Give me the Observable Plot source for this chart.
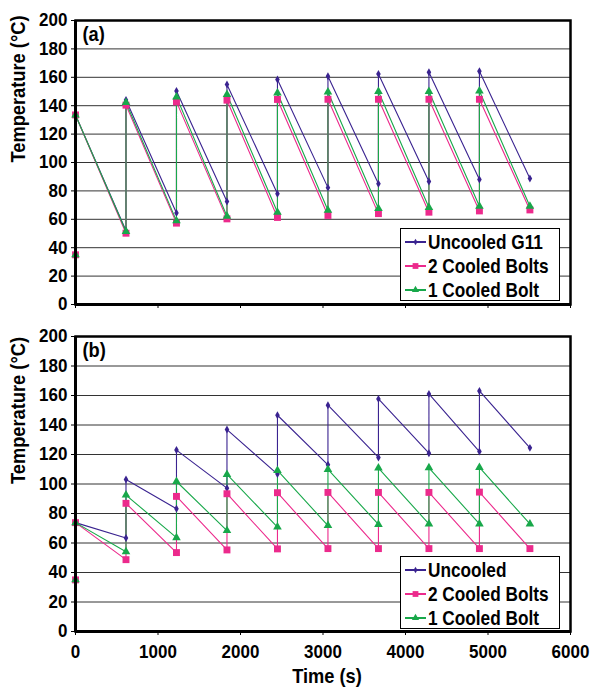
<!DOCTYPE html>
<html>
<head>
<meta charset="utf-8">
<script src="https://cdn.jsdelivr.net/npm/d3@7"></script>
<script src="https://cdn.jsdelivr.net/npm/@observablehq/plot@0.6"></script>
<style>
  html, body { margin: 0; padding: 0; background: #fff; }
  #page { position: relative; width: 593px; height: 690px; overflow: hidden; }
  #page svg { display: block; }
  .panel { position: absolute; left: 0; }
  .legend { position: absolute; background: #fff; border: 1.5px solid #000; box-sizing: border-box;
            font-family: "Liberation Sans", Arial, sans-serif;
            font-weight: bold; font-size: 21px; color: #000; padding-top: 1px; }
  .legend .row { display: flex; align-items: center; height: 24px; white-space: nowrap; }
  .legend .row span { display: inline-block; transform: scaleX(0.82); transform-origin: left center; }
  .legend svg { margin-left: 3px; margin-right: 1px; flex: none; }
</style>
</head>
<body>
<div id="page"></div>
<script>
const FONT = '"Liberation Sans", Arial, sans-serif';

// ---- data ----
const times = [0, 612, 1224, 1836, 2448, 3060, 3672, 4284, 4896, 5508];
const seriesA = ["Uncooled G11", "2 Cooled Bolts", "1 Cooled Bolt"];
const seriesB = ["Uncooled", "2 Cooled Bolts", "1 Cooled Bolt"];
const yTicks = [0, 20, 40, 60, 80, 100, 120, 140, 160, 180, 200];
const xTicks = [0, 1000, 2000, 3000, 4000, 5000, 6000];

// panel (a): value at start of each cycle (low) and after the jump (peak)
const aUncooledLow  = [35, 52, 64.5, 72.5, 78, 82.3, 85, 86.6, 88, 88.7];
const aUncooledPeak = [133.5, 144, 150.4, 155, 158.5, 160.7, 162.4, 163.6, 164.3];
const aTwoLow       = [35, 50.2, 57.3, 60.3, 61.3, 62.7, 64, 65, 65.9, 66.6];
const aTwoPeak      = [133.5, 140.4, 142.7, 143.9, 144.4, 144.5, 144.5, 144.5, 144.5];
const aOneLow       = [35, 51.4, 58.9, 62.2, 65, 66.4, 67.6, 68.3, 69.2, 69.2];
const aOnePeak      = [133.5, 142.2, 146.2, 147.9, 149, 149.6, 150, 150, 150.3];

// panel (b)
const bUncooledLow  = [35, 63.4, 83.2, 97.2, 106.7, 113, 118, 120.9, 122, 124.5];
const bUncooledPeak = [73.8, 103.1, 123, 136.9, 146.6, 153.4, 157.7, 161.1, 163.1];
const bTwoLow       = [35, 48.7, 53.5, 55.3, 56, 56.2, 56.2, 56.2, 56.2, 56.2];
const bTwoPeak      = [73.8, 86.9, 91.6, 93.4, 94.1, 94.3, 94.3, 94.3, 94.5];
const bOneLow       = [35, 54.1, 63.6, 68.4, 70.8, 71.8, 72.6, 72.9, 72.9, 72.9];
const bOnePeak      = [73.8, 92.5, 101.7, 106.5, 109.2, 109.9, 110.8, 111, 111.2];

const colors = ["#3a2390", "#ec2a8c", "#18a84a"];
const symbols = ["diamond", "square", "triangle"];
const radii = [2.4, 3.9, 3.2];

function build(name, lows, peaks) {
  const out = [];
  for (let i = 0; i < lows.length; i++) {
    out.push({series: name, t: times[i], v: lows[i]});
    if (i < peaks.length) out.push({series: name, t: times[i], v: peaks[i]});
  }
  return out;
}

const dataA = [
  ...build(seriesA[0], aUncooledLow, aUncooledPeak),
  ...build(seriesA[1], aTwoLow, aTwoPeak),
  ...build(seriesA[2], aOneLow, aOnePeak)
];
const dataB = [
  ...build(seriesB[0], bUncooledLow, bUncooledPeak),
  ...build(seriesB[1], bTwoLow, bTwoPeak),
  ...build(seriesB[2], bOneLow, bOnePeak)
];

function seriesMarks(data, names) {
  const marks = [];
  names.forEach((n, i) => {
    const d = data.filter(p => p.series === n);
    marks.push(Plot.line(d, {x: "t", y: "v", stroke: colors[i], strokeWidth: 1.1}));
  });
  names.forEach((n, i) => {
    const d = data.filter(p => p.series === n);
    marks.push(Plot.dot(d, {x: "t", y: "v", symbol: () => symbols[i], r: radii[i], fill: colors[i], stroke: "none"}));
  });
  return marks;
}

// compress glyphs horizontally (Arial-Narrow-like look) around each text's own anchor
function narrowText(svg) {
  svg.querySelectorAll("text").forEach(t => {
    const g = t.closest("g[aria-label]");
    const isTick = g && /tick label/.test(g.getAttribute("aria-label"));
    const s = isTick ? 0.92 : 0.87;
    let tr = t.getAttribute("transform") || "";
    const x = t.getAttribute("x");
    if (x != null && !/em$/.test(x)) {
      tr += ` translate(${x},0)`;
      t.removeAttribute("x");
    }
    t.setAttribute("transform", (tr + ` scale(${s},1)`).trim());
  });
}

function panel(opts) {
  const {data, names, label, height, marginTop, marginBottom, showX} = opts;
  const svg = Plot.plot({
    width: 593, height, marginTop, marginBottom, marginLeft: 75, marginRight: 23,
    style: {fontFamily: FONT, fontSize: "18.5px", fontWeight: "bold", color: "#000", background: "transparent", overflow: "visible"},
    x: {domain: [0, 6000]},
    y: {domain: [0, 200]},
    marks: [
      Plot.ruleY(yTicks.slice(1, -1), {stroke: "#333", strokeWidth: 1}),
      Plot.axisY({ticks: yTicks, tickSize: 4, tickPadding: 4, label: null, fontSize: 18.5, fontWeight: "bold", tickFormat: d3.format("d")}),
      showX
        ? Plot.axisX({ticks: xTicks, tickSize: 4, tickPadding: 9, label: null, fontSize: 18.5, fontWeight: "bold", tickFormat: d3.format("d")})
        : Plot.axisX({ticks: xTicks, tickSize: 4, tickFormat: () => "", label: null}),
      ...seriesMarks(data, names),
      Plot.frame({stroke: "#000", strokeWidth: 2.5}),
      Plot.ruleX([0], {stroke: "#000", strokeWidth: 3}),
      Plot.ruleY([0], {stroke: "#000", strokeWidth: 3}),
      Plot.text([label], {frameAnchor: "top-left", dx: 7, dy: 6, textAnchor: "start", lineAnchor: "top", fontSize: 21, fontWeight: "bold", fill: "#000"}),
      Plot.text(["Temperature (°C)"], {frameAnchor: "left", dx: -57, rotate: -90, fontSize: 21, fontWeight: "bold", fill: "#000"}),
      ...(showX ? [Plot.text(["Time (s)"], {frameAnchor: "bottom", lineAnchor: "middle", dx: 4, dy: 45, fontSize: 21, fontWeight: "bold", fill: "#000"})] : [])
    ]
  });
  narrowText(svg);
  return svg;
}

const page = document.getElementById("page");

const pA = panel({data: dataA, names: seriesA, label: "(a)", height: 320, marginTop: 20, marginBottom: 16, showX: false});
pA.classList.add("panel"); pA.style.top = "0px";
page.appendChild(pA);

const pB = panel({data: dataB, names: seriesB, label: "(b)", height: 370, marginTop: 16, marginBottom: 59, showX: true});
pB.classList.add("panel"); pB.style.top = "320px";
page.appendChild(pB);

function legend(names, left, top) {
  const div = document.createElement("div");
  div.className = "legend";
  div.style.left = left + "px"; div.style.top = top + "px";
  div.style.width = "160px"; div.style.height = "73px";
  names.forEach((n, i) => {
    const row = document.createElement("div");
    row.className = "row";
    const sw = d3.create("svg").attr("width", 23).attr("height", 12);
    sw.append("line").attr("x1", 1).attr("x2", 22).attr("y1", 6).attr("y2", 6).attr("stroke", colors[i]).attr("stroke-width", 2);
    const sym = {diamond: d3.symbolDiamond, square: d3.symbolSquare, triangle: d3.symbolTriangle}[symbols[i]];
    sw.append("path").attr("transform", "translate(11.5,6)").attr("d", d3.symbol(sym, Math.PI * radii[i] * radii[i] * 0.7)()).attr("fill", colors[i]);
    row.appendChild(sw.node());
    const t = document.createElement("span");
    t.textContent = n;
    row.appendChild(t);
    div.appendChild(row);
  });
  page.appendChild(div);
}
legend(seriesA, 400, 228);
legend(seriesB, 400, 556);
</script>
</body>
</html>
